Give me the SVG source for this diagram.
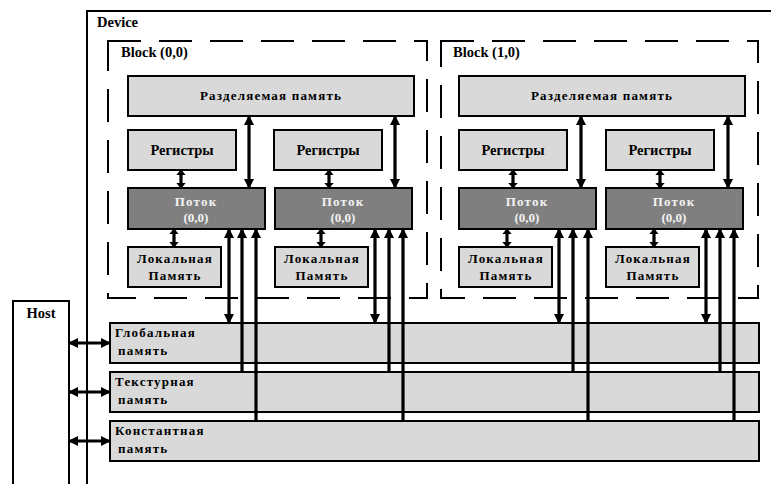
<svg xmlns="http://www.w3.org/2000/svg" width="771" height="484" viewBox="0 0 771 484">
<style>
text{font-family:"Liberation Serif","Times New Roman",serif;font-weight:bold;font-size:13px;fill:#000}
.big{font-size:14.5px}
.lt{fill:#d9d9d9;stroke:#000;stroke-width:2}
.dk{fill:#7f7f7f;stroke:#000;stroke-width:2}
.blk{fill:none;stroke:#000;stroke-width:2;stroke-dasharray:33 18}
.c{text-anchor:middle}
.w{fill:#f2f2f2}
.sp{letter-spacing:1.2px}
.ln{stroke:#000;stroke-width:3.2;fill:none}
.a2{marker-start:url(#ah);marker-end:url(#ah)}
.s2{marker-start:url(#hs);marker-end:url(#hs)}
.as{marker-start:url(#ah)}
</style>
<defs>
<marker id="ah" viewBox="0 0 10 10" refX="9" refY="5" markerWidth="10" markerHeight="10" markerUnits="userSpaceOnUse" orient="auto-start-reverse"><path d="M0,0 L10,5 L0,10 z" fill="#000"/></marker>
<marker id="hs" viewBox="0 0 10 10" refX="9" refY="5" markerWidth="6" markerHeight="10" preserveAspectRatio="none" markerUnits="userSpaceOnUse" orient="auto-start-reverse"><path d="M0,0 L10,5 L0,10 z" fill="#000"/></marker>
</defs>

<g id="device">
<path d="M87,484 V11 H771" fill="none" stroke="#000" stroke-width="2"/>
<text x="97" y="27" class="big">Device</text>
</g>

<g id="host">
<path d="M13,484 V301 H69 V484" fill="none" stroke="#000" stroke-width="2"/>
<text x="41" y="318" class="c big">Host</text>
</g>

<g id="block00">
<rect x="108" y="41" width="319" height="257" class="blk"/>
<text x="121" y="57" class="big">Block (0,0)</text>
</g>
<g id="block10">
<rect x="441" y="41" width="317" height="257" class="blk"/>
<text x="453" y="57" class="big">Block (1,0)</text>
</g>

<g id="shared0"><rect x="128" y="76" width="286" height="40" class="lt"/><text x="271" y="100" class="c sp">Разделяемая память</text></g>
<g id="shared1"><rect x="459" y="76" width="286" height="40" class="lt"/><text x="602" y="100" class="c sp">Разделяемая память</text></g>

<g id="reg00"><rect x="128" y="130" width="108" height="40" class="lt"/><text x="182" y="155" class="c big">Регистры</text></g>
<g id="reg01"><rect x="274" y="130" width="108" height="40" class="lt"/><text x="328" y="155" class="c big">Регистры</text></g>
<g id="reg10"><rect x="459" y="130" width="108" height="40" class="lt"/><text x="513" y="155" class="c big">Регистры</text></g>
<g id="reg11"><rect x="606" y="130" width="108" height="40" class="lt"/><text x="660" y="155" class="c big">Регистры</text></g>

<g id="thr00"><rect x="128" y="188" width="137" height="41" class="dk"/><text x="196" y="206" class="c w sp">Поток</text><text x="196" y="222" class="c w">(0,0)</text></g>
<g id="thr01"><rect x="275" y="188" width="137" height="41" class="dk"/><text x="343" y="206" class="c w sp">Поток</text><text x="343" y="222" class="c w">(0,0)</text></g>
<g id="thr10"><rect x="459" y="188" width="137" height="41" class="dk"/><text x="527" y="206" class="c w sp">Поток</text><text x="527" y="222" class="c w">(0,0)</text></g>
<g id="thr11"><rect x="606" y="188" width="137" height="41" class="dk"/><text x="674" y="206" class="c w sp">Поток</text><text x="674" y="222" class="c w">(0,0)</text></g>

<g id="loc00"><rect x="128" y="247" width="93" height="40" class="lt"/><text x="175" y="263" class="c sp">Локальная</text><text x="175" y="280" class="c sp">Память</text></g>
<g id="loc01"><rect x="275" y="247" width="93" height="40" class="lt"/><text x="322" y="263" class="c sp">Локальная</text><text x="322" y="280" class="c sp">Память</text></g>
<g id="loc10"><rect x="459" y="247" width="93" height="40" class="lt"/><text x="506" y="263" class="c sp">Локальная</text><text x="506" y="280" class="c sp">Память</text></g>
<g id="loc11"><rect x="606" y="247" width="93" height="40" class="lt"/><text x="653" y="263" class="c sp">Локальная</text><text x="653" y="280" class="c sp">Память</text></g>

<g id="global"><rect x="110" y="323" width="649" height="40" class="lt"/><text x="115" y="337" class="sp">Глобальная</text><text x="118" y="355" class="sp">память</text></g>
<g id="texture"><rect x="110" y="372" width="649" height="40" class="lt"/><text x="115" y="386" class="sp">Текстурная</text><text x="118" y="404" class="sp">память</text></g>
<g id="constant"><rect x="110" y="421" width="649" height="40" class="lt"/><text x="115" y="435" class="sp">Константная</text><text x="118" y="453" class="sp">память</text></g>

<g id="connectors">
<line x1="181" y1="170" x2="181" y2="188" class="ln s2"/>
<line x1="329" y1="170" x2="329" y2="188" class="ln s2"/>
<line x1="513" y1="170" x2="513" y2="188" class="ln s2"/>
<line x1="660" y1="170" x2="660" y2="188" class="ln s2"/>
<line x1="174" y1="229" x2="174" y2="247" class="ln s2"/>
<line x1="321" y1="229" x2="321" y2="247" class="ln s2"/>
<line x1="507" y1="229" x2="507" y2="247" class="ln s2"/>
<line x1="654" y1="229" x2="654" y2="247" class="ln s2"/>
<line x1="249" y1="116" x2="249" y2="188" class="ln a2"/>
<line x1="395" y1="116" x2="395" y2="188" class="ln a2"/>
<line x1="581" y1="116" x2="581" y2="188" class="ln a2"/>
<line x1="728" y1="116" x2="728" y2="188" class="ln a2"/>
<line x1="229" y1="229" x2="229" y2="323" class="ln a2"/>
<line x1="375" y1="229" x2="375" y2="323" class="ln a2"/>
<line x1="559" y1="229" x2="559" y2="323" class="ln a2"/>
<line x1="706" y1="229" x2="706" y2="323" class="ln a2"/>
<line x1="242" y1="229" x2="242" y2="373" class="ln as"/>
<line x1="389" y1="229" x2="389" y2="373" class="ln as"/>
<line x1="573" y1="229" x2="573" y2="373" class="ln as"/>
<line x1="720" y1="229" x2="720" y2="373" class="ln as"/>
<line x1="256" y1="229" x2="256" y2="422" class="ln as"/>
<line x1="403" y1="229" x2="403" y2="422" class="ln as"/>
<line x1="588" y1="229" x2="588" y2="422" class="ln as"/>
<line x1="734" y1="229" x2="734" y2="422" class="ln as"/>
<line x1="69" y1="343" x2="110" y2="343" class="ln a2"/>
<line x1="69" y1="392" x2="110" y2="392" class="ln a2"/>
<line x1="69" y1="441" x2="110" y2="441" class="ln a2"/>
</g>
</svg>
